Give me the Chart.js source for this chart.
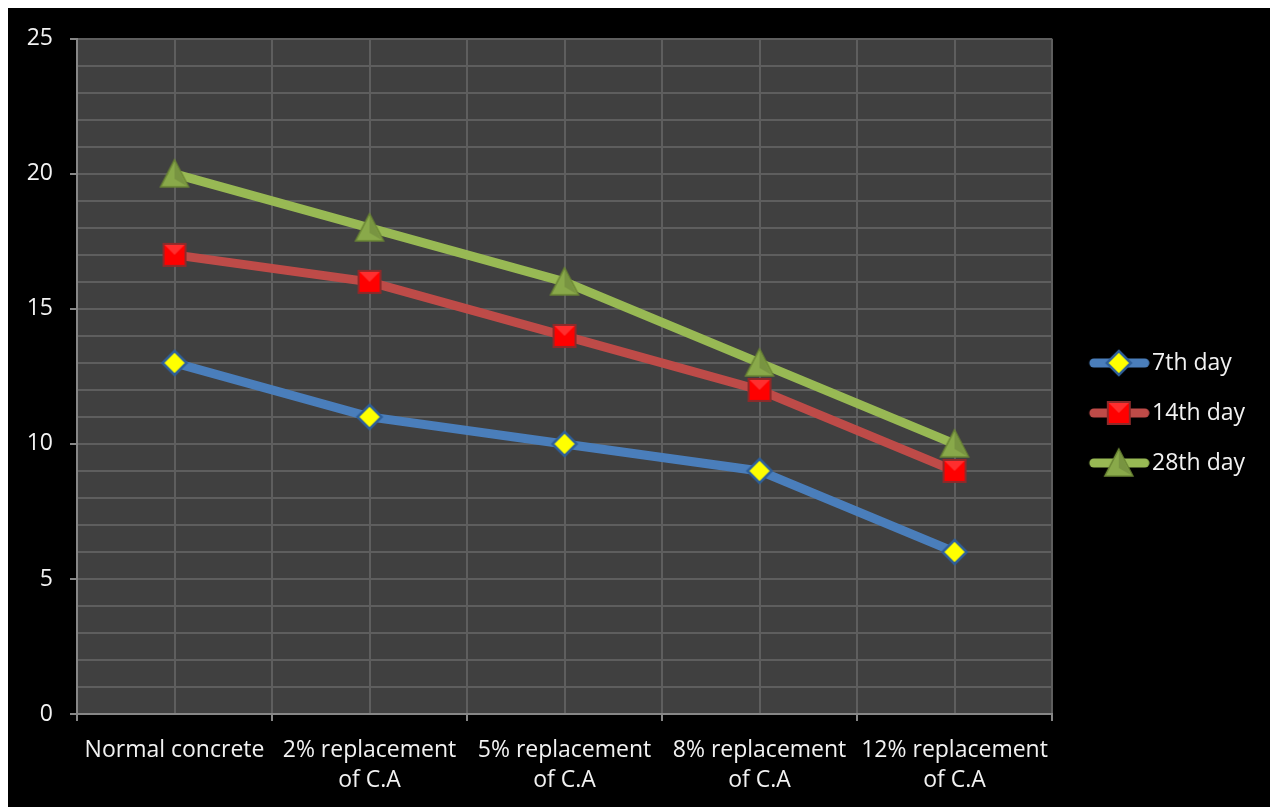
<!DOCTYPE html>
<html>
<head>
<meta charset="utf-8">
<script src="https://cdn.jsdelivr.net/npm/chart.js@4"></script>
<style>
  body { margin: 0; background: #fff; }
  #wrap { position: absolute; left: 8px; top: 8px; width: 1262px; height: 799px; background: #000; }
</style>
</head>
<body>
<div id="wrap"><canvas id="grafik"></canvas></div>
<script>
// data
const kategori = ["Normal concrete", ["2% replacement", "of C.A"], ["5% replacement", "of C.A"], ["8% replacement", "of C.A"], ["12% replacement", "of C.A"]];
const namaSeri = ["7th day", "14th day", "28th day"];
const hari7 = [13, 11, 10, 9, 6];
const hari14 = [17, 16, 14, 12, 9];
const hari28 = [20, 18, 16, 13, 10];
const yMin = 0, yMax = 25, yStep = 1, yLabelStep = 5;

const warnaGaris = ["#4a7ebb", "#be4b48", "#98b954"];
const fontName = "'Open Sans', sans-serif";

// marker images
function gambarMarker(ctx, jenis, cx, cy) {
    if (jenis === 0) {
        ctx.beginPath();
        ctx.moveTo(cx, cy - 12); ctx.lineTo(cx + 12, cy); ctx.lineTo(cx, cy + 12); ctx.lineTo(cx - 12, cy); ctx.closePath();
        ctx.fillStyle = "#ffff00"; ctx.fill();
        ctx.lineWidth = 2.5; ctx.strokeStyle = "#2f5f9a"; ctx.stroke();
    } else if (jenis === 1) {
        ctx.fillStyle = "#ff0000";
        ctx.fillRect(cx - 11, cy - 11, 22, 22);
        ctx.lineWidth = 2; ctx.strokeStyle = "#8e2a2a";
        ctx.strokeRect(cx - 11, cy - 11, 22, 22);
        ctx.fillStyle = "rgba(255,255,255,0.18)";
        ctx.beginPath(); ctx.moveTo(cx - 10, cy - 10); ctx.lineTo(cx + 10, cy - 10); ctx.lineTo(cx, cy); ctx.closePath(); ctx.fill();
    } else {
        ctx.beginPath();
        ctx.moveTo(cx, cy - 14); ctx.lineTo(cx + 14, cy + 13); ctx.lineTo(cx - 14, cy + 13); ctx.closePath();
        ctx.fillStyle = "#89a94a"; ctx.fill();
        ctx.lineWidth = 1.5; ctx.strokeStyle = "#6a8534"; ctx.stroke();
        ctx.fillStyle = "rgba(0,0,0,0.12)";
        ctx.beginPath(); ctx.moveTo(cx, cy - 12); ctx.lineTo(cx + 12, cy + 12); ctx.lineTo(cx, cy + 5); ctx.closePath(); ctx.fill();
    }
}

function buatMarker(jenis) {
    const c = document.createElement("canvas");
    c.width = 32; c.height = 32;
    gambarMarker(c.getContext("2d"), jenis, 16, 16);
    return c;
}

// legend symbol: line with marker, shifted right inside the image
function buatLegendImg(jenis) {
    const c = document.createElement("canvas");
    c.width = 80; c.height = 32;
    const ctx = c.getContext("2d");
    ctx.strokeStyle = warnaGaris[jenis];
    ctx.lineWidth = 9; ctx.lineCap = "round";
    ctx.beginPath(); ctx.moveTo(24, 16); ctx.lineTo(75, 16); ctx.stroke();
    gambarMarker(ctx, jenis, 49, 16);
    return c;
}

const markerImg = [0, 1, 2].map(buatMarker);
const legendImg = [0, 1, 2].map(buatLegendImg);

const plotBg = {
    id: "plotBg",
    beforeDraw(chart) {
        const a = chart.chartArea;
        chart.ctx.save();
        chart.ctx.fillStyle = "#404040";
        chart.ctx.fillRect(a.left, a.top, a.right - a.left, a.bottom - a.top);
        chart.ctx.restore();
    }
};

const seriData = [hari7, hari14, hari28];

new Chart(document.getElementById("grafik"), {
    type: "line",
    data: {
        labels: kategori,
        datasets: seriData.map((d, i) => ({
            label: namaSeri[i],
            data: d,
            borderColor: warnaGaris[i],
            borderWidth: 9,
            tension: 0,
            pointStyle: markerImg[i],
            pointRadius: 12,
            pointHoverRadius: 12
        }))
    },
    options: {
        responsive: true,
        maintainAspectRatio: false,
        animation: false,
        layout: { padding: { top: 11, right: 15, left: 0, bottom: 0 } },
        plugins: {
            tooltip: { enabled: false },
            legend: {
                position: "right",
                labels: {
                    color: "#f2f2f2",
                    font: { family: fontName, size: 23 },
                    usePointStyle: true,
                    pointStyleWidth: 61.5,
                    padding: 27,
                    generateLabels(chart) {
                        return Chart.defaults.plugins.legend.labels.generateLabels(chart).map((l, i) => ({ ...l, pointStyle: legendImg[i] }));
                    }
                }
            }
        },
        scales: {
            x: {
                type: "category",
                offset: true,
                grid: { offset: true, color: "#5e5e5e", lineWidth: 2, tickColor: "#868686", tickLength: 7 },
                border: { color: "#868686", width: 2 },
                ticks: { color: "#f2f2f2", font: { family: fontName, size: 23, lineHeight: 1.3 }, padding: 15, maxRotation: 0, autoSkip: false },
                afterFit(s) { s.height = 93; }
            },
            x2: {
                type: "category",
                position: "top",
                labels: kategori,
                offset: true,
                grid: { offset: false, color: "#5e5e5e", lineWidth: 2, drawTicks: false },
                border: { display: false },
                ticks: { display: false },
                afterFit(s) { s.height = 18; }
            },
            y: {
                min: yMin,
                max: yMax,
                grid: {
                    color: "#5e5e5e",
                    lineWidth: 2,
                    tickLength: 7,
                    tickColor: (c) => (c.tick && c.tick.value % yLabelStep === 0) ? "#868686" : "transparent"
                },
                border: { color: "#868686", width: 2 },
                ticks: {
                    stepSize: yStep,
                    autoSkip: false,
                    color: "#f2f2f2",
                    padding: 17,
                    font: { family: fontName, size: 23 },
                    callback: (v) => v % yLabelStep === 0 ? v : ""
                },
                afterFit(s) { s.width = 69; }
            }
        }
    },
    plugins: [plotBg]
});
</script>
</body>
</html>
